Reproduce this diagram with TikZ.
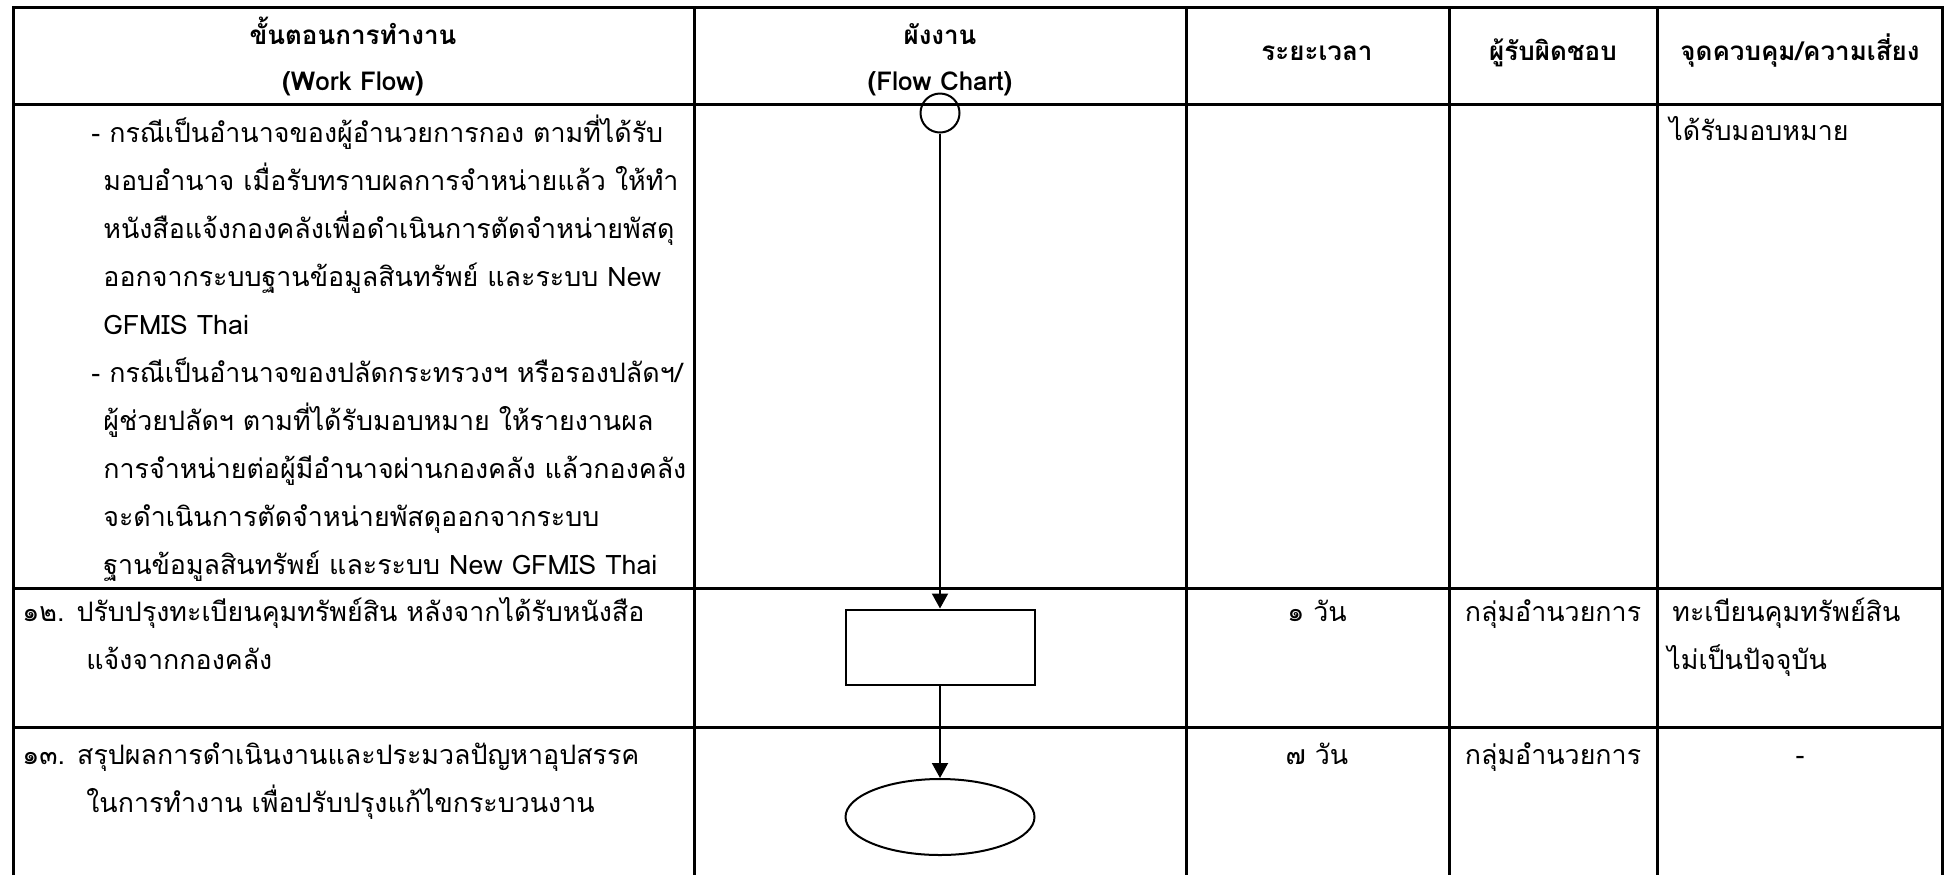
\documentclass[tikz,border=0pt]{standalone}
\usepackage{fontspec}
\setmainfont[Script=Thai]{Loma}
\usetikzlibrary{shapes.geometric,arrows.meta}
\begin{document}
\begin{tikzpicture}[x=0.5pt,y=-0.5pt,
  grid/.style={line width=1.5pt},
  tx/.style={inner sep=0pt, anchor=base west, font=\fontsize{13.4}{16}\selectfont},
  tc/.style={inner sep=0pt, anchor=base, font=\fontsize{13.4}{16}\selectfont},
  th/.style={inner sep=0pt, anchor=base, font=\bfseries\fontsize{13}{16}\selectfont},
  shp/.style={draw, line width=1pt, inner sep=0pt},
  arr/.style={line width=1pt, -{Triangle[length=7.5pt,width=8pt]}}]
\useasboundingbox (0,0) rectangle (1948,875);
% table
\draw[grid] (13,875) -- (13,7) -- (1942,7) -- (1942,875);
\foreach \yy in {104,588,727} \draw[grid] (13,\yy) -- (1942,\yy);
\foreach \xx in {694,1186,1449,1657} \draw[grid] (\xx,7) -- (\xx,875);
% header
\node[th] (h1a) at (353,44) {ขั้นตอนการทำงาน};
\node[th] (h1b) at (353,90) {(Work Flow)};
\node[th] (h2a) at (940,44) {ผังงาน};
\node[th] (h2b) at (940,90) {(Flow Chart)};
\node[th] (h3) at (1317,60) {ระยะเวลา};
\node[th] (h4) at (1553,60) {ผู้รับผิดชอบ};
\node[th] (h5) at (1800,60) {จุดควบคุม/ความเสี่ยง};
% block
\node[tx] (b1) at (91,142) {- กรณีเป็นอำนาจของผู้อำนวยการกอง ตามที่ได้รับ};
\node[tx] (b2) at (103,190) {มอบอำนาจ เมื่อรับทราบผลการจำหน่ายแล้ว ให้ทำ};
\node[tx] (b3) at (103,238) {หนังสือแจ้งกองคลังเพื่อดำเนินการตัดจำหน่ายพัสดุ};
\node[tx] (b4) at (103,286) {ออกจากระบบฐานข้อมูลสินทรัพย์ และระบบ New};
\node[tx] (b5) at (103,334) {GFMIS Thai};
\node[tx] (b6) at (91,382) {- กรณีเป็นอำนาจของปลัดกระทรวงฯ หรือรองปลัดฯ/};
\node[tx] (b7) at (103,430) {ผู้ช่วยปลัดฯ ตามที่ได้รับมอบหมาย ให้รายงานผล};
\node[tx] (b8) at (103,478) {การจำหน่ายต่อผู้มีอำนาจผ่านกองคลัง แล้วกองคลัง};
\node[tx] (b9) at (103,526) {จะดำเนินการตัดจำหน่ายพัสดุออกจากระบบ};
\node[tx] (b10) at (103,574) {ฐานข้อมูลสินทรัพย์ และระบบ New GFMIS Thai};
\node[tx] (k1) at (1669,140) {ได้รับมอบหมาย};
% row 12
\node[tx] (r12a) at (22,621) {๑๒. ปรับปรุงทะเบียนคุมทรัพย์สิน หลังจากได้รับหนังสือ};
\node[tx] (r12b) at (86,669) {แจ้งจากกองคลัง};
\node[tc] (t12) at (1317,621) {๑ วัน};
\node[tc] (p12) at (1553,621) {กลุ่มอำนวยการ};
\node[tx] (k12a) at (1672,621) {ทะเบียนคุมทรัพย์สิน};
\node[tx] (k12b) at (1667,669) {ไม่เป็นปัจจุบัน};
% row 13
\node[tx] (r13a) at (22,764) {๑๓. สรุปผลการดำเนินงานและประมวลปัญหาอุปสรรค};
\node[tx] (r13b) at (86,812) {ในการทำงาน เพื่อปรับปรุงแก้ไขกระบวนงาน};
\node[tc] (t13) at (1317,764) {๗ วัน};
\node[tc] (p13) at (1553,764) {กลุ่มอำนวยการ};
\node[tc] (k13) at (1800,764) {-};
% flow chart
\node[shp, circle, minimum size=19.5pt] (c) at (940,113) {};
\node[shp, rectangle, minimum width=94.5pt, minimum height=37.5pt] (r) at (940,647) {};
\node[shp, ellipse, minimum width=94.5pt, minimum height=38pt] (e) at (940,817) {};
\draw[arr] (c) -- (r);
\draw[arr] (r) -- (e);
\end{tikzpicture}
\end{document}
